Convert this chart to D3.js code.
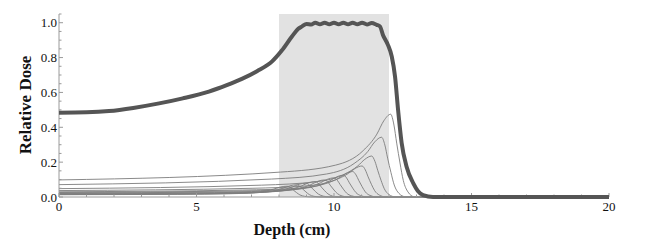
<!DOCTYPE html>
<html>
<head>
<meta charset="utf-8">
<script src="https://cdn.jsdelivr.net/npm/d3@7"></script>
<style>
  html, body { margin: 0; padding: 0; background: #fff; }
  svg { display: block; }
</style>
</head>
<body>
<svg id="chart" width="649" height="247"></svg>
<script>
// spread-out Bragg peak (thick curve)
const sobpDepth = [0, 1.0, 1.82, 2.7, 3.64, 4.5, 5.45, 6.1, 6.65, 7.2, 7.75, 8.1, 8.47, 8.7, 8.84, 9.0, 9.17, 9.32, 9.49, 9.66, 9.83, 10.0, 10.17, 10.34, 10.51, 10.68, 10.85, 11.02, 11.2, 11.37, 11.55, 11.67, 11.78, 11.96, 12.1, 12.22, 12.33, 12.46, 12.64, 12.88, 13.05, 13.24, 13.6, 20];
const sobpDose = [0.484, 0.486, 0.493, 0.511, 0.537, 0.566, 0.605, 0.642, 0.678, 0.722, 0.778, 0.84, 0.921, 0.965, 0.979, 0.993, 0.99, 1.0, 0.991, 1.0, 0.991, 1.0, 0.991, 1.0, 0.991, 1.0, 0.991, 1.0, 0.99, 0.998, 0.988, 0.979, 0.93, 0.873, 0.806, 0.69, 0.50, 0.31, 0.174, 0.08, 0.035, 0.011, 0, 0];

// individual pristine Bragg curves (thin lines), deepest first
const braggDepth = [
  [0, 8.06, 10.06, 11.06, 11.56, 11.81, 12.06, 12.18, 12.28, 12.40, 12.52, 12.69, 12.91, 13.36, 20],
  [0, 7.73, 9.73, 10.73, 11.23, 11.48, 11.73, 11.85, 11.95, 12.07, 12.19, 12.36, 12.58, 13.03, 20],
  [0, 7.37, 9.37, 10.37, 10.87, 11.12, 11.37, 11.49, 11.59, 11.71, 11.83, 12.0, 12.22, 12.67, 20],
  [0, 7.02, 9.02, 10.02, 10.52, 10.77, 11.02, 11.14, 11.24, 11.36, 11.48, 11.65, 11.87, 12.32, 20],
  [0, 6.68, 8.68, 9.68, 10.18, 10.43, 10.68, 10.80, 10.90, 11.02, 11.14, 11.31, 11.53, 11.98, 20],
  [0, 6.34, 8.34, 9.34, 9.84, 10.09, 10.34, 10.46, 10.56, 10.68, 10.80, 10.97, 11.19, 11.64, 20],
  [0, 6.0, 8.0, 9.0, 9.5, 9.75, 10.0, 10.12, 10.22, 10.34, 10.46, 10.63, 10.85, 11.3, 20],
  [0, 5.66, 7.66, 8.66, 9.16, 9.41, 9.66, 9.78, 9.88, 10.0, 10.12, 10.29, 10.51, 10.96, 20],
  [0, 5.32, 7.32, 8.32, 8.82, 9.07, 9.32, 9.44, 9.54, 9.66, 9.78, 9.95, 10.17, 10.62, 20],
  [0, 4.98, 6.98, 7.98, 8.48, 8.73, 8.98, 9.10, 9.20, 9.32, 9.44, 9.61, 9.83, 10.28, 20],
  [0, 4.64, 6.64, 7.64, 8.14, 8.39, 8.64, 8.76, 8.86, 8.98, 9.10, 9.27, 9.49, 9.94, 20],
  [0, 4.30, 6.30, 7.30, 7.80, 8.05, 8.30, 8.42, 8.52, 8.64, 8.76, 8.93, 9.15, 9.60, 20],
];
const braggDose = [
  [0.098, 0.143, 0.183, 0.266, 0.361, 0.437, 0.475, 0.413, 0.309, 0.195, 0.095, 0.029, 0.002, 0, 0],
  [0.071, 0.103, 0.132, 0.192, 0.261, 0.316, 0.343, 0.298, 0.223, 0.141, 0.069, 0.021, 0.002, 0, 0],
  [0.048, 0.068, 0.088, 0.130, 0.179, 0.216, 0.235, 0.204, 0.153, 0.096, 0.047, 0.014, 0.001, 0, 0],
  [0.037, 0.050, 0.064, 0.096, 0.135, 0.164, 0.178, 0.155, 0.116, 0.073, 0.036, 0.011, 0.001, 0, 0],
  [0.030, 0.040, 0.050, 0.076, 0.109, 0.134, 0.146, 0.127, 0.095, 0.060, 0.029, 0.009, 0.001, 0, 0],
  [0.026, 0.034, 0.042, 0.062, 0.092, 0.115, 0.125, 0.109, 0.081, 0.051, 0.025, 0.008, 0.001, 0, 0],
  [0.023, 0.029, 0.036, 0.054, 0.081, 0.101, 0.110, 0.096, 0.072, 0.045, 0.022, 0.007, 0.001, 0, 0],
  [0.020, 0.025, 0.031, 0.046, 0.071, 0.090, 0.098, 0.085, 0.064, 0.040, 0.020, 0.006, 0.0005, 0, 0],
  [0.018, 0.022, 0.027, 0.040, 0.064, 0.081, 0.088, 0.077, 0.057, 0.036, 0.018, 0.005, 0.0004, 0, 0],
  [0.016, 0.019, 0.024, 0.036, 0.057, 0.073, 0.079, 0.069, 0.051, 0.032, 0.016, 0.005, 0.0004, 0, 0],
  [0.014, 0.017, 0.021, 0.031, 0.050, 0.064, 0.070, 0.061, 0.046, 0.029, 0.014, 0.004, 0.0004, 0, 0],
  [0.013, 0.015, 0.019, 0.028, 0.045, 0.057, 0.062, 0.054, 0.040, 0.025, 0.012, 0.004, 0.0003, 0, 0],
];

const targetRange = [8, 12];
const xTicks = [0, 5, 10, 15, 20];
const yTicks = [0, 0.2, 0.4, 0.6, 0.8, 1.0];

const serif = '"Liberation Serif", "DejaVu Serif", "Times New Roman", serif';
const svg = d3.select('#chart').attr('font-family', serif);
const x = d3.scaleLinear().domain([0, 20]).range([59, 609]);
const y = d3.scaleLinear().domain([0, 1.05]).range([197, 14]);

svg.append('rect')
  .attr('x', x(targetRange[0])).attr('y', y(1.05))
  .attr('width', x(targetRange[1]) - x(targetRange[0]))
  .attr('height', y(0) - y(1.05))
  .attr('fill', '#e2e2e2');

const line = d3.line().x(d => x(d[0])).y(d => y(d[1])).curve(d3.curveMonotoneX);

svg.append('g').selectAll('path').data(braggDepth.map((xs, i) => xs.map((v, j) => [v, braggDose[i][j]])))
  .join('path')
  .attr('d', line)
  .attr('fill', 'none')
  .attr('stroke', '#7d7d7d')
  .attr('stroke-width', 0.9);

// axes, Mathematica style: ticks point inward
const axisColor = '#9a9a9a';
const xAxis = svg.append('g').attr('transform', `translate(0,${y(0)})`);
xAxis.append('line').attr('x1', x(0)).attr('x2', x(20)).attr('stroke', axisColor);
xAxis.selectAll('line.minor').data(d3.range(0, 21, 1)).join('line').attr('class', 'minor')
  .attr('x1', d => x(d)).attr('x2', d => x(d))
  .attr('y1', 0).attr('y2', d => xTicks.includes(d) ? -4 : -2.5)
  .attr('stroke', axisColor);
xAxis.selectAll('text').data(xTicks).join('text')
  .attr('x', d => x(d)).attr('y', 14)
  .attr('text-anchor', 'middle').attr('font-size', 13).attr('fill', '#111')
  .text(d => d);

const yAxis = svg.append('g').attr('transform', `translate(${x(0)},0)`);
yAxis.append('line').attr('y1', y(0)).attr('y2', y(1.05)).attr('stroke', axisColor);
yAxis.selectAll('line.minor').data(d3.range(0, 22).map(i => i * 0.05)).join('line').attr('class', 'minor')
  .attr('y1', d => y(d)).attr('y2', d => y(d))
  .attr('x1', 0).attr('x2', (d, i) => i % 4 === 0 ? 4 : 2.5)
  .attr('stroke', axisColor);
yAxis.selectAll('text').data(yTicks).join('text')
  .attr('x', -2).attr('y', d => y(d)).attr('dy', '0.35em')
  .attr('text-anchor', 'end').attr('font-size', 13).attr('fill', '#111')
  .text(d => d3.format('.1f')(d));

svg.append('path')
  .datum(sobpDepth.map((v, i) => [v, sobpDose[i]]))
  .attr('d', line)
  .attr('fill', 'none')
  .attr('stroke', '#555')
  .attr('stroke-width', 4)
  .attr('stroke-linejoin', 'round');

svg.append('text')
  .attr('x', 292).attr('y', 235)
  .attr('text-anchor', 'middle').attr('font-size', 16).attr('font-weight', 'bold').attr('fill', '#111')
  .text('Depth (cm)');
svg.append('text')
  .attr('transform', 'translate(31,105) rotate(-90)')
  .attr('text-anchor', 'middle').attr('font-size', 17).attr('font-weight', 'bold').attr('fill', '#111')
  .text('Relative Dose');
</script>
</body>
</html>
